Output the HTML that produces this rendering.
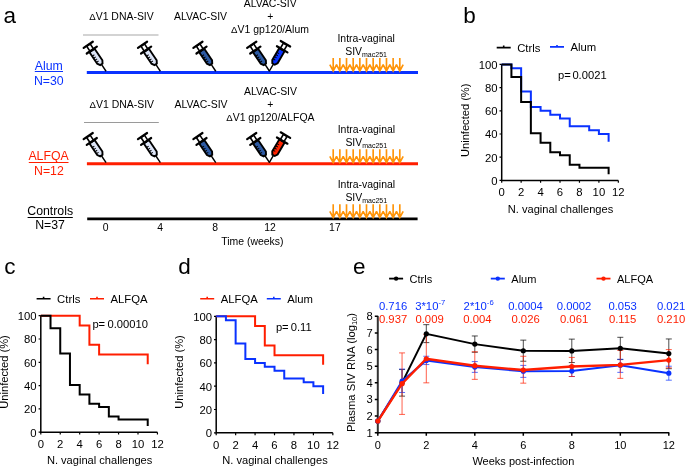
<!DOCTYPE html>
<html><head><meta charset="utf-8"><style>
html,body{margin:0;padding:0;background:#fff;}
svg{display:block;font-family:'Liberation Sans',sans-serif;will-change:transform;}
text{font-family:'Liberation Sans',sans-serif;}
</style></head><body>
<svg width="685" height="467" viewBox="0 0 685 467">
<rect width="685" height="467" fill="#fff"/>
<text x="3.60" y="22.70" font-size="22.5" fill="#000" text-anchor="start" >a</text>
<text x="463.20" y="22.50" font-size="22.5" fill="#000" text-anchor="start" >b</text>
<text x="4.20" y="274.40" font-size="22.5" fill="#000" text-anchor="start" >c</text>
<text x="178.20" y="274.30" font-size="22.5" fill="#000" text-anchor="start" >d</text>
<text x="353.00" y="274.40" font-size="22.5" fill="#000" text-anchor="start" >e</text>
<text x="121.50" y="20.20" font-size="10.45" fill="#000" text-anchor="middle" ><tspan font-size='9.6'>Δ</tspan>V1 DNA-SIV</text>
<text x="200.60" y="20.40" font-size="10.45" fill="#000" text-anchor="middle" >ALVAC-SIV</text>
<text x="270.20" y="6.80" font-size="10.45" fill="#000" text-anchor="middle" >ALVAC-SIV</text>
<text x="270.20" y="19.90" font-size="10.45" fill="#000" text-anchor="middle" >+</text>
<text x="270.00" y="32.60" font-size="10.45" fill="#000" text-anchor="middle" ><tspan font-size='9.6'>Δ</tspan>V1 gp120/Alum</text>
<text x="366.20" y="41.80" font-size="10.45" fill="#000" text-anchor="middle" >Intra-vaginal</text>
<text x="345.2" y="54.5" font-size="10.45">SIV<tspan font-size="7" dy="2">mac251</tspan></text>
<line x1="83" y1="35" x2="158.5" y2="35" stroke="#d3d3d3" stroke-width="2"/>
<line x1="86.8" y1="72.5" x2="418" y2="72.5" stroke="#0a32ff" stroke-width="3"/>
<text x="48.80" y="69.90" font-size="12.3" fill="#0a32ff" text-anchor="middle" >Alum</text>
<line x1="34.8" y1="71.5" x2="63" y2="71.5" stroke="#0a32ff" stroke-width="1"/>
<text x="48.80" y="84.50" font-size="12.3" fill="#0a32ff" text-anchor="middle" >N=30</text>
<g transform="translate(105.90,71.00) rotate(-34)"><line x1="0" y1="0.3" x2="0" y2="-8.5" stroke="#000" stroke-width="1.4"/><path d="M-3.1,-24.8 L-3.1,-10.9 L-1.4,-8.1 L1.4,-8.1 L3.1,-10.9 L3.1,-24.8 Z" fill="#dde5f7" stroke="#000" stroke-width="1.9" stroke-linejoin="miter"/><line x1="-3" y1="-12.4" x2="-0.5" y2="-12.4" stroke="#000" stroke-width="1.0"/><line x1="-3" y1="-14.9" x2="-0.5" y2="-14.9" stroke="#000" stroke-width="1.0"/><line x1="-3" y1="-17.4" x2="-0.5" y2="-17.4" stroke="#000" stroke-width="1.0"/><line x1="-3" y1="-19.9" x2="-0.5" y2="-19.9" stroke="#000" stroke-width="1.0"/><rect x="-2.1" y="-31.2" width="4.2" height="6.3" fill="#fff" stroke="#000" stroke-width="1.6"/><line x1="-6.1" y1="-25.2" x2="6.1" y2="-25.2" stroke="#000" stroke-width="2.2" stroke-linecap="round"/><line x1="-5.5" y1="-31.6" x2="5.5" y2="-31.6" stroke="#000" stroke-width="2.2" stroke-linecap="round"/></g>
<g transform="translate(160.20,71.00) rotate(-34)"><line x1="0" y1="0.3" x2="0" y2="-8.5" stroke="#000" stroke-width="1.4"/><path d="M-3.1,-24.8 L-3.1,-10.9 L-1.4,-8.1 L1.4,-8.1 L3.1,-10.9 L3.1,-24.8 Z" fill="#dde5f7" stroke="#000" stroke-width="1.9" stroke-linejoin="miter"/><line x1="-3" y1="-12.4" x2="-0.5" y2="-12.4" stroke="#000" stroke-width="1.0"/><line x1="-3" y1="-14.9" x2="-0.5" y2="-14.9" stroke="#000" stroke-width="1.0"/><line x1="-3" y1="-17.4" x2="-0.5" y2="-17.4" stroke="#000" stroke-width="1.0"/><line x1="-3" y1="-19.9" x2="-0.5" y2="-19.9" stroke="#000" stroke-width="1.0"/><rect x="-2.1" y="-31.2" width="4.2" height="6.3" fill="#fff" stroke="#000" stroke-width="1.6"/><line x1="-6.1" y1="-25.2" x2="6.1" y2="-25.2" stroke="#000" stroke-width="2.2" stroke-linecap="round"/><line x1="-5.5" y1="-31.6" x2="5.5" y2="-31.6" stroke="#000" stroke-width="2.2" stroke-linecap="round"/></g>
<g transform="translate(215.60,71.00) rotate(-34)"><line x1="0" y1="0.3" x2="0" y2="-8.5" stroke="#000" stroke-width="1.4"/><path d="M-3.1,-24.8 L-3.1,-10.9 L-1.4,-8.1 L1.4,-8.1 L3.1,-10.9 L3.1,-24.8 Z" fill="#2d5aa3" stroke="#000" stroke-width="1.9" stroke-linejoin="miter"/><line x1="-3" y1="-12.4" x2="-0.5" y2="-12.4" stroke="#000" stroke-width="1.0"/><line x1="-3" y1="-14.9" x2="-0.5" y2="-14.9" stroke="#000" stroke-width="1.0"/><line x1="-3" y1="-17.4" x2="-0.5" y2="-17.4" stroke="#000" stroke-width="1.0"/><line x1="-3" y1="-19.9" x2="-0.5" y2="-19.9" stroke="#000" stroke-width="1.0"/><rect x="-2.1" y="-31.2" width="4.2" height="6.3" fill="#fff" stroke="#000" stroke-width="1.6"/><line x1="-6.1" y1="-25.2" x2="6.1" y2="-25.2" stroke="#000" stroke-width="2.2" stroke-linecap="round"/><line x1="-5.5" y1="-31.6" x2="5.5" y2="-31.6" stroke="#000" stroke-width="2.2" stroke-linecap="round"/></g>
<g transform="translate(269.40,71.00) rotate(-34)"><line x1="0" y1="0.3" x2="0" y2="-8.5" stroke="#000" stroke-width="1.4"/><path d="M-3.1,-24.8 L-3.1,-10.9 L-1.4,-8.1 L1.4,-8.1 L3.1,-10.9 L3.1,-24.8 Z" fill="#2d5aa3" stroke="#000" stroke-width="1.9" stroke-linejoin="miter"/><line x1="-3" y1="-12.4" x2="-0.5" y2="-12.4" stroke="#000" stroke-width="1.0"/><line x1="-3" y1="-14.9" x2="-0.5" y2="-14.9" stroke="#000" stroke-width="1.0"/><line x1="-3" y1="-17.4" x2="-0.5" y2="-17.4" stroke="#000" stroke-width="1.0"/><line x1="-3" y1="-19.9" x2="-0.5" y2="-19.9" stroke="#000" stroke-width="1.0"/><rect x="-2.1" y="-31.2" width="4.2" height="6.3" fill="#fff" stroke="#000" stroke-width="1.6"/><line x1="-6.1" y1="-25.2" x2="6.1" y2="-25.2" stroke="#000" stroke-width="2.2" stroke-linecap="round"/><line x1="-5.5" y1="-31.6" x2="5.5" y2="-31.6" stroke="#000" stroke-width="2.2" stroke-linecap="round"/></g>
<g transform="translate(269.40,71.00) rotate(30.5)"><line x1="0" y1="0.3" x2="0" y2="-8.5" stroke="#000" stroke-width="1.4"/><path d="M-3.1,-24.8 L-3.1,-10.9 L-1.4,-8.1 L1.4,-8.1 L3.1,-10.9 L3.1,-24.8 Z" fill="#0832ff" stroke="#000" stroke-width="1.9" stroke-linejoin="miter"/><line x1="-3" y1="-12.4" x2="-0.5" y2="-12.4" stroke="#000" stroke-width="1.0"/><line x1="-3" y1="-14.9" x2="-0.5" y2="-14.9" stroke="#000" stroke-width="1.0"/><line x1="-3" y1="-17.4" x2="-0.5" y2="-17.4" stroke="#000" stroke-width="1.0"/><line x1="-3" y1="-19.9" x2="-0.5" y2="-19.9" stroke="#000" stroke-width="1.0"/><rect x="-2.1" y="-31.2" width="4.2" height="6.3" fill="#fff" stroke="#000" stroke-width="1.6"/><line x1="-6.1" y1="-25.2" x2="6.1" y2="-25.2" stroke="#000" stroke-width="2.2" stroke-linecap="round"/><line x1="-5.5" y1="-31.6" x2="5.5" y2="-31.6" stroke="#000" stroke-width="2.2" stroke-linecap="round"/></g>
<path d="M333.20,58.10V71.00M329.80,64.70L333.20,71.00L336.60,64.70M339.86,58.10V71.00M336.46,64.70L339.86,71.00L343.26,64.70M346.52,58.10V71.00M343.12,64.70L346.52,71.00L349.92,64.70M353.18,58.10V71.00M349.78,64.70L353.18,71.00L356.58,64.70M359.84,58.10V71.00M356.44,64.70L359.84,71.00L363.24,64.70M366.50,58.10V71.00M363.10,64.70L366.50,71.00L369.90,64.70M373.16,58.10V71.00M369.76,64.70L373.16,71.00L376.56,64.70M379.82,58.10V71.00M376.42,64.70L379.82,71.00L383.22,64.70M386.48,58.10V71.00M383.08,64.70L386.48,71.00L389.88,64.70M393.14,58.10V71.00M389.74,64.70L393.14,71.00L396.54,64.70M399.80,58.10V71.00M396.40,64.70L399.80,71.00L403.20,64.70" fill="none" stroke="#ff9408" stroke-width="1.65"/>
<text x="121.80" y="107.80" font-size="10.45" fill="#000" text-anchor="middle" ><tspan font-size='9.6'>Δ</tspan>V1 DNA-SIV</text>
<text x="201.10" y="108.00" font-size="10.45" fill="#000" text-anchor="middle" >ALVAC-SIV</text>
<text x="270.50" y="95.30" font-size="10.45" fill="#000" text-anchor="middle" >ALVAC-SIV</text>
<text x="270.30" y="108.00" font-size="10.45" fill="#000" text-anchor="middle" >+</text>
<text x="270.40" y="120.50" font-size="10.45" fill="#000" text-anchor="middle" ><tspan font-size='9.6'>Δ</tspan>V1 gp120/ALFQA</text>
<text x="366.40" y="133.40" font-size="10.45" fill="#000" text-anchor="middle" >Intra-vaginal</text>
<text x="345.4" y="145.9" font-size="10.45">SIV<tspan font-size="7" dy="2">mac251</tspan></text>
<line x1="84" y1="122.5" x2="158.8" y2="122.5" stroke="#9a9a9a" stroke-width="1.2"/>
<line x1="86.9" y1="163.8" x2="418" y2="163.8" stroke="#ff1e00" stroke-width="3"/>
<text x="48.60" y="160.10" font-size="12.3" fill="#ff1e00" text-anchor="middle" >ALFQA</text>
<line x1="28.8" y1="162.5" x2="68.5" y2="162.5" stroke="#ff1e00" stroke-width="1"/>
<text x="48.90" y="175.00" font-size="12.3" fill="#ff1e00" text-anchor="middle" >N=12</text>
<g transform="translate(105.90,162.30) rotate(-34)"><line x1="0" y1="0.3" x2="0" y2="-8.5" stroke="#000" stroke-width="1.4"/><path d="M-3.1,-24.8 L-3.1,-10.9 L-1.4,-8.1 L1.4,-8.1 L3.1,-10.9 L3.1,-24.8 Z" fill="#dde5f7" stroke="#000" stroke-width="1.9" stroke-linejoin="miter"/><line x1="-3" y1="-12.4" x2="-0.5" y2="-12.4" stroke="#000" stroke-width="1.0"/><line x1="-3" y1="-14.9" x2="-0.5" y2="-14.9" stroke="#000" stroke-width="1.0"/><line x1="-3" y1="-17.4" x2="-0.5" y2="-17.4" stroke="#000" stroke-width="1.0"/><line x1="-3" y1="-19.9" x2="-0.5" y2="-19.9" stroke="#000" stroke-width="1.0"/><rect x="-2.1" y="-31.2" width="4.2" height="6.3" fill="#fff" stroke="#000" stroke-width="1.6"/><line x1="-6.1" y1="-25.2" x2="6.1" y2="-25.2" stroke="#000" stroke-width="2.2" stroke-linecap="round"/><line x1="-5.5" y1="-31.6" x2="5.5" y2="-31.6" stroke="#000" stroke-width="2.2" stroke-linecap="round"/></g>
<g transform="translate(160.20,162.30) rotate(-34)"><line x1="0" y1="0.3" x2="0" y2="-8.5" stroke="#000" stroke-width="1.4"/><path d="M-3.1,-24.8 L-3.1,-10.9 L-1.4,-8.1 L1.4,-8.1 L3.1,-10.9 L3.1,-24.8 Z" fill="#dde5f7" stroke="#000" stroke-width="1.9" stroke-linejoin="miter"/><line x1="-3" y1="-12.4" x2="-0.5" y2="-12.4" stroke="#000" stroke-width="1.0"/><line x1="-3" y1="-14.9" x2="-0.5" y2="-14.9" stroke="#000" stroke-width="1.0"/><line x1="-3" y1="-17.4" x2="-0.5" y2="-17.4" stroke="#000" stroke-width="1.0"/><line x1="-3" y1="-19.9" x2="-0.5" y2="-19.9" stroke="#000" stroke-width="1.0"/><rect x="-2.1" y="-31.2" width="4.2" height="6.3" fill="#fff" stroke="#000" stroke-width="1.6"/><line x1="-6.1" y1="-25.2" x2="6.1" y2="-25.2" stroke="#000" stroke-width="2.2" stroke-linecap="round"/><line x1="-5.5" y1="-31.6" x2="5.5" y2="-31.6" stroke="#000" stroke-width="2.2" stroke-linecap="round"/></g>
<g transform="translate(215.60,162.30) rotate(-34)"><line x1="0" y1="0.3" x2="0" y2="-8.5" stroke="#000" stroke-width="1.4"/><path d="M-3.1,-24.8 L-3.1,-10.9 L-1.4,-8.1 L1.4,-8.1 L3.1,-10.9 L3.1,-24.8 Z" fill="#2d5aa3" stroke="#000" stroke-width="1.9" stroke-linejoin="miter"/><line x1="-3" y1="-12.4" x2="-0.5" y2="-12.4" stroke="#000" stroke-width="1.0"/><line x1="-3" y1="-14.9" x2="-0.5" y2="-14.9" stroke="#000" stroke-width="1.0"/><line x1="-3" y1="-17.4" x2="-0.5" y2="-17.4" stroke="#000" stroke-width="1.0"/><line x1="-3" y1="-19.9" x2="-0.5" y2="-19.9" stroke="#000" stroke-width="1.0"/><rect x="-2.1" y="-31.2" width="4.2" height="6.3" fill="#fff" stroke="#000" stroke-width="1.6"/><line x1="-6.1" y1="-25.2" x2="6.1" y2="-25.2" stroke="#000" stroke-width="2.2" stroke-linecap="round"/><line x1="-5.5" y1="-31.6" x2="5.5" y2="-31.6" stroke="#000" stroke-width="2.2" stroke-linecap="round"/></g>
<g transform="translate(269.40,162.30) rotate(-34)"><line x1="0" y1="0.3" x2="0" y2="-8.5" stroke="#000" stroke-width="1.4"/><path d="M-3.1,-24.8 L-3.1,-10.9 L-1.4,-8.1 L1.4,-8.1 L3.1,-10.9 L3.1,-24.8 Z" fill="#2d5aa3" stroke="#000" stroke-width="1.9" stroke-linejoin="miter"/><line x1="-3" y1="-12.4" x2="-0.5" y2="-12.4" stroke="#000" stroke-width="1.0"/><line x1="-3" y1="-14.9" x2="-0.5" y2="-14.9" stroke="#000" stroke-width="1.0"/><line x1="-3" y1="-17.4" x2="-0.5" y2="-17.4" stroke="#000" stroke-width="1.0"/><line x1="-3" y1="-19.9" x2="-0.5" y2="-19.9" stroke="#000" stroke-width="1.0"/><rect x="-2.1" y="-31.2" width="4.2" height="6.3" fill="#fff" stroke="#000" stroke-width="1.6"/><line x1="-6.1" y1="-25.2" x2="6.1" y2="-25.2" stroke="#000" stroke-width="2.2" stroke-linecap="round"/><line x1="-5.5" y1="-31.6" x2="5.5" y2="-31.6" stroke="#000" stroke-width="2.2" stroke-linecap="round"/></g>
<g transform="translate(269.40,162.30) rotate(30.5)"><line x1="0" y1="0.3" x2="0" y2="-8.5" stroke="#000" stroke-width="1.4"/><path d="M-3.1,-24.8 L-3.1,-10.9 L-1.4,-8.1 L1.4,-8.1 L3.1,-10.9 L3.1,-24.8 Z" fill="#ff2400" stroke="#000" stroke-width="1.9" stroke-linejoin="miter"/><line x1="-3" y1="-12.4" x2="-0.5" y2="-12.4" stroke="#000" stroke-width="1.0"/><line x1="-3" y1="-14.9" x2="-0.5" y2="-14.9" stroke="#000" stroke-width="1.0"/><line x1="-3" y1="-17.4" x2="-0.5" y2="-17.4" stroke="#000" stroke-width="1.0"/><line x1="-3" y1="-19.9" x2="-0.5" y2="-19.9" stroke="#000" stroke-width="1.0"/><rect x="-2.1" y="-31.2" width="4.2" height="6.3" fill="#fff" stroke="#000" stroke-width="1.6"/><line x1="-6.1" y1="-25.2" x2="6.1" y2="-25.2" stroke="#000" stroke-width="2.2" stroke-linecap="round"/><line x1="-5.5" y1="-31.6" x2="5.5" y2="-31.6" stroke="#000" stroke-width="2.2" stroke-linecap="round"/></g>
<path d="M333.20,149.20V162.60M329.80,156.30L333.20,162.60L336.60,156.30M339.86,149.20V162.60M336.46,156.30L339.86,162.60L343.26,156.30M346.52,149.20V162.60M343.12,156.30L346.52,162.60L349.92,156.30M353.18,149.20V162.60M349.78,156.30L353.18,162.60L356.58,156.30M359.84,149.20V162.60M356.44,156.30L359.84,162.60L363.24,156.30M366.50,149.20V162.60M363.10,156.30L366.50,162.60L369.90,156.30M373.16,149.20V162.60M369.76,156.30L373.16,162.60L376.56,156.30M379.82,149.20V162.60M376.42,156.30L379.82,162.60L383.22,156.30M386.48,149.20V162.60M383.08,156.30L386.48,162.60L389.88,156.30M393.14,149.20V162.60M389.74,156.30L393.14,162.60L396.54,156.30M399.80,149.20V162.60M396.40,156.30L399.80,162.60L403.20,156.30" fill="none" stroke="#ff9408" stroke-width="1.65"/>
<text x="366.40" y="188.40" font-size="10.45" fill="#000" text-anchor="middle" >Intra-vaginal</text>
<text x="345.4" y="200.9" font-size="10.45">SIV<tspan font-size="7" dy="2">mac251</tspan></text>
<line x1="87.2" y1="218.8" x2="417.6" y2="218.8" stroke="#000" stroke-width="2.8"/>
<path d="M333.20,204.20V217.60M329.80,211.30L333.20,217.60L336.60,211.30M339.86,204.20V217.60M336.46,211.30L339.86,217.60L343.26,211.30M346.52,204.20V217.60M343.12,211.30L346.52,217.60L349.92,211.30M353.18,204.20V217.60M349.78,211.30L353.18,217.60L356.58,211.30M359.84,204.20V217.60M356.44,211.30L359.84,217.60L363.24,211.30M366.50,204.20V217.60M363.10,211.30L366.50,217.60L369.90,211.30M373.16,204.20V217.60M369.76,211.30L373.16,217.60L376.56,211.30M379.82,204.20V217.60M376.42,211.30L379.82,217.60L383.22,211.30M386.48,204.20V217.60M383.08,211.30L386.48,217.60L389.88,211.30M393.14,204.20V217.60M389.74,211.30L393.14,217.60L396.54,211.30M399.80,204.20V217.60M396.40,211.30L399.80,217.60L403.20,211.30" fill="none" stroke="#ff9408" stroke-width="1.65"/>
<text x="50.20" y="215.00" font-size="12.3" fill="#000" text-anchor="middle" >Controls</text>
<line x1="27.6" y1="217.5" x2="72.8" y2="217.5" stroke="#000" stroke-width="1"/>
<text x="50.00" y="229.40" font-size="12.3" fill="#000" text-anchor="middle" >N=37</text>
<text x="105.60" y="230.90" font-size="10.4" fill="#000" text-anchor="middle" >0</text>
<text x="160.10" y="230.90" font-size="10.4" fill="#000" text-anchor="middle" >4</text>
<text x="215.10" y="230.90" font-size="10.4" fill="#000" text-anchor="middle" >8</text>
<text x="270.10" y="230.90" font-size="10.4" fill="#000" text-anchor="middle" >12</text>
<text x="334.90" y="230.90" font-size="10.4" fill="#000" text-anchor="middle" >17</text>
<text x="252.40" y="245.30" font-size="10.45" fill="#000" text-anchor="middle" >Time (weeks)</text>
<path d="M501.70,63.90V180.40H618.34" fill="none" stroke="#000" stroke-width="1.5"/>
<text x="497.50" y="184.70" font-size="11.3" fill="#000" text-anchor="end" >0</text>
<text x="497.50" y="161.50" font-size="11.3" fill="#000" text-anchor="end" >20</text>
<text x="497.50" y="138.30" font-size="11.3" fill="#000" text-anchor="end" >40</text>
<text x="497.50" y="115.10" font-size="11.3" fill="#000" text-anchor="end" >60</text>
<text x="497.50" y="91.90" font-size="11.3" fill="#000" text-anchor="end" >80</text>
<text x="497.50" y="68.70" font-size="11.3" fill="#000" text-anchor="end" >100</text>
<text x="501.70" y="196.40" font-size="11.3" fill="#000" text-anchor="middle" >0</text>
<text x="521.14" y="196.40" font-size="11.3" fill="#000" text-anchor="middle" >2</text>
<text x="540.58" y="196.40" font-size="11.3" fill="#000" text-anchor="middle" >4</text>
<text x="560.02" y="196.40" font-size="11.3" fill="#000" text-anchor="middle" >6</text>
<text x="579.46" y="196.40" font-size="11.3" fill="#000" text-anchor="middle" >8</text>
<text x="598.90" y="196.40" font-size="11.3" fill="#000" text-anchor="middle" >10</text>
<text x="618.34" y="196.40" font-size="11.3" fill="#000" text-anchor="middle" >12</text>
<path d="M499.50,180.40H501.70M499.50,157.20H501.70M499.50,134.00H501.70M499.50,110.80H501.70M499.50,87.60H501.70M499.50,64.40H501.70M501.70,180.40V182.80M521.14,180.40V182.80M540.58,180.40V182.80M560.02,180.40V182.80M579.46,180.40V182.80M598.90,180.40V182.80M618.34,180.40V182.80" stroke="#000" stroke-width="1.2" fill="none"/>
<path d="M501.70,64.40H511.42V68.26H521.14V91.46H530.86V106.94H540.58V110.80H550.30V114.66H560.02V118.54H569.74V126.26H589.18V130.14H598.90V134.00H608.62V141.74" fill="none" stroke="#0a32ff" stroke-width="2" stroke-linejoin="miter"/>
<path d="M501.70,64.40H511.42V76.94H521.14V102.02H530.86V133.37H540.58V142.78H550.30V152.19H560.02V155.32H569.74V164.73H579.46V167.86H608.62V174.14" fill="none" stroke="#000" stroke-width="2" stroke-linejoin="miter"/>
<text transform="translate(468.70,120.30) rotate(-90)" font-size="11.1" text-anchor="middle">Uninfected (%)</text>
<text x="560.52" y="212.60" font-size="11.1" fill="#000" text-anchor="middle" >N. vaginal challenges</text>
<path d="M496.70,47.60h14M503.70,47.60v-2" stroke="#000" stroke-width="1.6" fill="none"/>
<text x="517.20" y="51.70" font-size="11.3" fill="#000" text-anchor="start" >Ctrls</text>
<path d="M550.00,46.90h14M557.00,46.90v-2" stroke="#0a32ff" stroke-width="1.6" fill="none"/>
<text x="570.50" y="51.00" font-size="11.3" fill="#000" text-anchor="start" >Alum</text>
<text x="558.10" y="79.00" font-size="11.2" fill="#000" text-anchor="start" >p=</text>
<text x="572.40" y="79.00" font-size="11.2" fill="#000" text-anchor="start" >0.0021</text>
<path d="M40.80,315.20V432.20H157.44" fill="none" stroke="#000" stroke-width="1.5"/>
<text x="36.60" y="436.50" font-size="11.3" fill="#000" text-anchor="end" >0</text>
<text x="36.60" y="413.20" font-size="11.3" fill="#000" text-anchor="end" >20</text>
<text x="36.60" y="389.90" font-size="11.3" fill="#000" text-anchor="end" >40</text>
<text x="36.60" y="366.60" font-size="11.3" fill="#000" text-anchor="end" >60</text>
<text x="36.60" y="343.30" font-size="11.3" fill="#000" text-anchor="end" >80</text>
<text x="36.60" y="320.00" font-size="11.3" fill="#000" text-anchor="end" >100</text>
<text x="40.80" y="448.20" font-size="11.3" fill="#000" text-anchor="middle" >0</text>
<text x="60.24" y="448.20" font-size="11.3" fill="#000" text-anchor="middle" >2</text>
<text x="79.68" y="448.20" font-size="11.3" fill="#000" text-anchor="middle" >4</text>
<text x="99.12" y="448.20" font-size="11.3" fill="#000" text-anchor="middle" >6</text>
<text x="118.56" y="448.20" font-size="11.3" fill="#000" text-anchor="middle" >8</text>
<text x="138.00" y="448.20" font-size="11.3" fill="#000" text-anchor="middle" >10</text>
<text x="157.44" y="448.20" font-size="11.3" fill="#000" text-anchor="middle" >12</text>
<path d="M38.60,432.20H40.80M38.60,408.90H40.80M38.60,385.60H40.80M38.60,362.30H40.80M38.60,339.00H40.80M38.60,315.70H40.80M40.80,432.20V434.60M60.24,432.20V434.60M79.68,432.20V434.60M99.12,432.20V434.60M118.56,432.20V434.60M138.00,432.20V434.60M157.44,432.20V434.60" stroke="#000" stroke-width="1.2" fill="none"/>
<path d="M40.80,315.70H79.68V325.40H89.40V344.82H99.12V354.53H147.72V364.25" fill="none" stroke="#ff1e00" stroke-width="2" stroke-linejoin="miter"/>
<path d="M40.80,315.70H50.52V328.29H60.24V353.48H69.96V384.97H79.68V394.42H89.40V403.87H99.12V407.01H108.84V416.46H118.56V419.61H147.72V425.91" fill="none" stroke="#000" stroke-width="2" stroke-linejoin="miter"/>
<text transform="translate(7.80,372.00) rotate(-90)" font-size="11.1" text-anchor="middle">Uninfected (%)</text>
<text x="99.62" y="463.90" font-size="11.1" fill="#000" text-anchor="middle" >N. vaginal challenges</text>
<path d="M36.60,298.70h14M43.60,298.70v-2" stroke="#000" stroke-width="1.6" fill="none"/>
<text x="57.10" y="302.80" font-size="11.3" fill="#000" text-anchor="start" >Ctrls</text>
<path d="M90.00,298.70h14M97.00,298.70v-2" stroke="#ff1e00" stroke-width="1.6" fill="none"/>
<text x="110.50" y="302.80" font-size="11.3" fill="#000" text-anchor="start" >ALFQA</text>
<text x="92.40" y="327.80" font-size="11.2" fill="#000" text-anchor="start" >p=</text>
<text x="107.50" y="327.80" font-size="11.2" fill="#000" text-anchor="start" >0.00010</text>
<path d="M216.20,315.80V432.80H332.84" fill="none" stroke="#000" stroke-width="1.5"/>
<text x="212.00" y="437.10" font-size="11.3" fill="#000" text-anchor="end" >0</text>
<text x="212.00" y="413.80" font-size="11.3" fill="#000" text-anchor="end" >20</text>
<text x="212.00" y="390.50" font-size="11.3" fill="#000" text-anchor="end" >40</text>
<text x="212.00" y="367.20" font-size="11.3" fill="#000" text-anchor="end" >60</text>
<text x="212.00" y="343.90" font-size="11.3" fill="#000" text-anchor="end" >80</text>
<text x="212.00" y="320.60" font-size="11.3" fill="#000" text-anchor="end" >100</text>
<text x="216.20" y="448.80" font-size="11.3" fill="#000" text-anchor="middle" >0</text>
<text x="235.64" y="448.80" font-size="11.3" fill="#000" text-anchor="middle" >2</text>
<text x="255.08" y="448.80" font-size="11.3" fill="#000" text-anchor="middle" >4</text>
<text x="274.52" y="448.80" font-size="11.3" fill="#000" text-anchor="middle" >6</text>
<text x="293.96" y="448.80" font-size="11.3" fill="#000" text-anchor="middle" >8</text>
<text x="313.40" y="448.80" font-size="11.3" fill="#000" text-anchor="middle" >10</text>
<text x="332.84" y="448.80" font-size="11.3" fill="#000" text-anchor="middle" >12</text>
<path d="M214.00,432.80H216.20M214.00,409.50H216.20M214.00,386.20H216.20M214.00,362.90H216.20M214.00,339.60H216.20M214.00,316.30H216.20M216.20,432.80V435.20M235.64,432.80V435.20M255.08,432.80V435.20M274.52,432.80V435.20M293.96,432.80V435.20M313.40,432.80V435.20M332.84,432.80V435.20" stroke="#000" stroke-width="1.2" fill="none"/>
<path d="M216.20,316.30H255.08V326.00H264.80V345.43H274.52V355.13H323.12V364.85" fill="none" stroke="#ff1e00" stroke-width="2" stroke-linejoin="miter"/>
<path d="M216.20,316.30H225.92V320.18H235.64V343.48H245.36V359.02H255.08V362.90H264.80V366.78H274.52V370.67H284.24V378.43H303.68V382.32H313.40V386.20H323.12V393.97" fill="none" stroke="#0a32ff" stroke-width="2" stroke-linejoin="miter"/>
<text transform="translate(183.00,372.00) rotate(-90)" font-size="11.1" text-anchor="middle">Uninfected (%)</text>
<text x="275.02" y="463.50" font-size="11.1" fill="#000" text-anchor="middle" >N. vaginal challenges</text>
<path d="M200.20,298.70h14M207.20,298.70v-2" stroke="#ff1e00" stroke-width="1.6" fill="none"/>
<text x="220.70" y="302.80" font-size="11.3" fill="#000" text-anchor="start" >ALFQA</text>
<path d="M266.80,298.70h14M273.80,298.70v-2" stroke="#0a32ff" stroke-width="1.6" fill="none"/>
<text x="287.30" y="302.80" font-size="11.3" fill="#000" text-anchor="start" >Alum</text>
<text x="275.90" y="330.80" font-size="11.2" fill="#000" text-anchor="start" >p=</text>
<text x="290.70" y="330.80" font-size="11.2" fill="#000" text-anchor="start" >0.11</text>
<path d="M377.80,315.86V433.40" fill="none" stroke="#333" stroke-width="2"/>
<path d="M376.80,432.70H669.30" fill="none" stroke="#000" stroke-width="1.5"/>
<text x="372.70" y="436.70" font-size="11.2" fill="#000" text-anchor="end" >1</text>
<text x="372.70" y="420.08" font-size="11.2" fill="#000" text-anchor="end" >2</text>
<text x="372.70" y="403.46" font-size="11.2" fill="#000" text-anchor="end" >3</text>
<text x="372.70" y="386.84" font-size="11.2" fill="#000" text-anchor="end" >4</text>
<text x="372.70" y="370.22" font-size="11.2" fill="#000" text-anchor="end" >5</text>
<text x="372.70" y="353.60" font-size="11.2" fill="#000" text-anchor="end" >6</text>
<text x="372.70" y="336.98" font-size="11.2" fill="#000" text-anchor="end" >7</text>
<text x="372.70" y="320.36" font-size="11.2" fill="#000" text-anchor="end" >8</text>
<text x="377.80" y="448.70" font-size="11" fill="#000" text-anchor="middle" >0</text>
<text x="426.30" y="448.70" font-size="11" fill="#000" text-anchor="middle" >2</text>
<text x="474.80" y="448.70" font-size="11" fill="#000" text-anchor="middle" >4</text>
<text x="523.30" y="448.70" font-size="11" fill="#000" text-anchor="middle" >6</text>
<text x="571.80" y="448.70" font-size="11" fill="#000" text-anchor="middle" >8</text>
<text x="620.30" y="448.70" font-size="11" fill="#000" text-anchor="middle" >10</text>
<text x="668.80" y="448.70" font-size="11" fill="#000" text-anchor="middle" >12</text>
<path d="M374.80,432.70H377.80M374.80,416.08H377.80M374.80,399.46H377.80M374.80,382.84H377.80M374.80,366.22H377.80M374.80,349.60H377.80M374.80,332.98H377.80M374.80,316.36H377.80M377.80,432.70V435.70M426.30,432.70V435.70M474.80,432.70V435.70M523.30,432.70V435.70M571.80,432.70V435.70M620.30,432.70V435.70M668.80,432.70V435.70" stroke="#000" stroke-width="1.5" fill="none"/>
<text transform="translate(354.6,372.50) rotate(-90)" font-size="11.25" text-anchor="middle">Plasma SIV RNA (log<tspan font-size="7.5" dy="2">10</tspan><tspan dy="-2">)</tspan></text>
<text x="523.40" y="465.00" font-size="11" fill="#000" text-anchor="middle" >Weeks post-infection</text>
<path d="M402.05,396.14V369.54M399.05,396.14h6M399.05,369.54h6M426.30,342.62V324.67M423.30,342.62h6M423.30,324.67h6M474.80,352.26V335.97M471.80,352.26h6M471.80,335.97h6M523.30,361.23V340.13M520.30,361.23h6M520.30,340.13h6M571.80,362.56V339.13M568.80,362.56h6M568.80,339.13h6M620.30,359.57V337.30M617.30,359.57h6M617.30,337.30h6M668.80,368.71V338.96M665.80,368.71h6M665.80,338.96h6" stroke="#000" stroke-width="1" fill="none" opacity="0.7"/>
<path d="M402.05,392.48V369.05M399.05,392.48h6M399.05,369.05h6M426.30,364.56V356.25M423.30,364.56h6M423.30,356.25h6M474.80,372.37V361.57M471.80,372.37h6M471.80,361.57h6M523.30,377.36V365.39M520.30,377.36h6M520.30,365.39h6M571.80,376.52V365.56M568.80,376.52h6M568.80,365.56h6M620.30,372.37V359.24M617.30,372.37h6M617.30,359.24h6M668.80,380.18V366.22M665.80,380.18h6M665.80,366.22h6" stroke="#0a32ff" stroke-width="1" fill="none" opacity="0.7"/>
<path d="M402.05,414.42V352.92M399.05,414.42h6M399.05,352.92h6M426.30,382.84V334.64M423.30,382.84h6M423.30,334.64h6M474.80,379.35V351.76M471.80,379.35h6M471.80,351.76h6M523.30,383.17V356.25M520.30,383.17h6M520.30,356.25h6M571.80,376.52V357.41M568.80,376.52h6M568.80,357.41h6M620.30,378.35V350.43M617.30,378.35h6M617.30,350.43h6M668.80,367.88V349.60M665.80,367.88h6M665.80,349.60h6" stroke="#ff1e00" stroke-width="1" fill="none" opacity="0.7"/>
<polyline points="377.80,421.07 402.05,382.84 426.30,333.81 474.80,344.12 523.30,350.76 571.80,350.93 620.30,348.27 668.80,353.59" fill="none" stroke="#000" stroke-width="2"/>
<circle cx="377.80" cy="421.07" r="2.6" fill="#000"/>
<circle cx="402.05" cy="382.84" r="2.6" fill="#000"/>
<circle cx="426.30" cy="333.81" r="2.6" fill="#000"/>
<circle cx="474.80" cy="344.12" r="2.6" fill="#000"/>
<circle cx="523.30" cy="350.76" r="2.6" fill="#000"/>
<circle cx="571.80" cy="350.93" r="2.6" fill="#000"/>
<circle cx="620.30" cy="348.27" r="2.6" fill="#000"/>
<circle cx="668.80" cy="353.59" r="2.6" fill="#000"/>
<polyline points="377.80,421.07 402.05,381.18 426.30,360.40 474.80,367.05 523.30,371.21 571.80,371.04 620.30,365.22 668.80,373.20" fill="none" stroke="#0a32ff" stroke-width="2"/>
<circle cx="377.80" cy="421.07" r="2.6" fill="#0a32ff"/>
<circle cx="402.05" cy="381.18" r="2.6" fill="#0a32ff"/>
<circle cx="426.30" cy="360.40" r="2.6" fill="#0a32ff"/>
<circle cx="474.80" cy="367.05" r="2.6" fill="#0a32ff"/>
<circle cx="523.30" cy="371.21" r="2.6" fill="#0a32ff"/>
<circle cx="571.80" cy="371.04" r="2.6" fill="#0a32ff"/>
<circle cx="620.30" cy="365.22" r="2.6" fill="#0a32ff"/>
<circle cx="668.80" cy="373.20" r="2.6" fill="#0a32ff"/>
<polyline points="377.80,421.07 402.05,383.67 426.30,358.74 474.80,365.72 523.30,370.04 571.80,366.55 620.30,364.89 668.80,360.07" fill="none" stroke="#ff1e00" stroke-width="2.4"/>
<circle cx="377.80" cy="421.07" r="2.6" fill="#ff1e00"/>
<circle cx="402.05" cy="383.67" r="2.6" fill="#ff1e00"/>
<circle cx="426.30" cy="358.74" r="2.6" fill="#ff1e00"/>
<circle cx="474.80" cy="365.72" r="2.6" fill="#ff1e00"/>
<circle cx="523.30" cy="370.04" r="2.6" fill="#ff1e00"/>
<circle cx="571.80" cy="366.55" r="2.6" fill="#ff1e00"/>
<circle cx="620.30" cy="364.89" r="2.6" fill="#ff1e00"/>
<circle cx="668.80" cy="360.07" r="2.6" fill="#ff1e00"/>
<line x1="389.1" y1="278.6" x2="403.1" y2="278.6" stroke="#000" stroke-width="1.8"/><circle cx="396.1" cy="278.6" r="2.2" fill="#000"/>
<text x="409.60" y="282.60" font-size="11" fill="#000" text-anchor="start" >Ctrls</text>
<line x1="490.8" y1="278.6" x2="504.8" y2="278.6" stroke="#0a32ff" stroke-width="1.8"/><circle cx="497.8" cy="278.6" r="2.2" fill="#0a32ff"/>
<text x="511.30" y="282.60" font-size="11" fill="#000" text-anchor="start" >Alum</text>
<line x1="596.5" y1="278.6" x2="610.5" y2="278.6" stroke="#ff1e00" stroke-width="1.8"/><circle cx="603.5" cy="278.6" r="2.2" fill="#ff1e00"/>
<text x="617.00" y="282.60" font-size="11" fill="#000" text-anchor="start" >ALFQA</text>
<text x="393.1" y="309.7" font-size="11.3" fill="#0a32ff" text-anchor="middle">0.716</text>
<text x="415.2" y="309.7" font-size="11.3" fill="#0a32ff">3*10<tspan font-size="7.7" dy="-4.6">-7</tspan></text>
<text x="463.6" y="309.7" font-size="11.3" fill="#0a32ff">2*10<tspan font-size="7.7" dy="-4.6">-6</tspan></text>
<text x="525.60" y="309.7" font-size="11.3" fill="#0a32ff" text-anchor="middle">0.0004</text>
<text x="574.10" y="309.7" font-size="11.3" fill="#0a32ff" text-anchor="middle">0.0002</text>
<text x="622.60" y="309.7" font-size="11.3" fill="#0a32ff" text-anchor="middle">0.053</text>
<text x="671.10" y="309.7" font-size="11.3" fill="#0a32ff" text-anchor="middle">0.021</text>
<text x="393.10" y="322.5" font-size="11.3" fill="#ff1e00" text-anchor="middle">0.937</text>
<text x="429.60" y="322.5" font-size="11.3" fill="#ff1e00" text-anchor="middle">0.009</text>
<text x="477.40" y="322.5" font-size="11.3" fill="#ff1e00" text-anchor="middle">0.004</text>
<text x="525.60" y="322.5" font-size="11.3" fill="#ff1e00" text-anchor="middle">0.026</text>
<text x="574.10" y="322.5" font-size="11.3" fill="#ff1e00" text-anchor="middle">0.061</text>
<text x="622.60" y="322.5" font-size="11.3" fill="#ff1e00" text-anchor="middle">0.115</text>
<text x="671.10" y="322.5" font-size="11.3" fill="#ff1e00" text-anchor="middle">0.210</text>
</svg>
</body></html>
